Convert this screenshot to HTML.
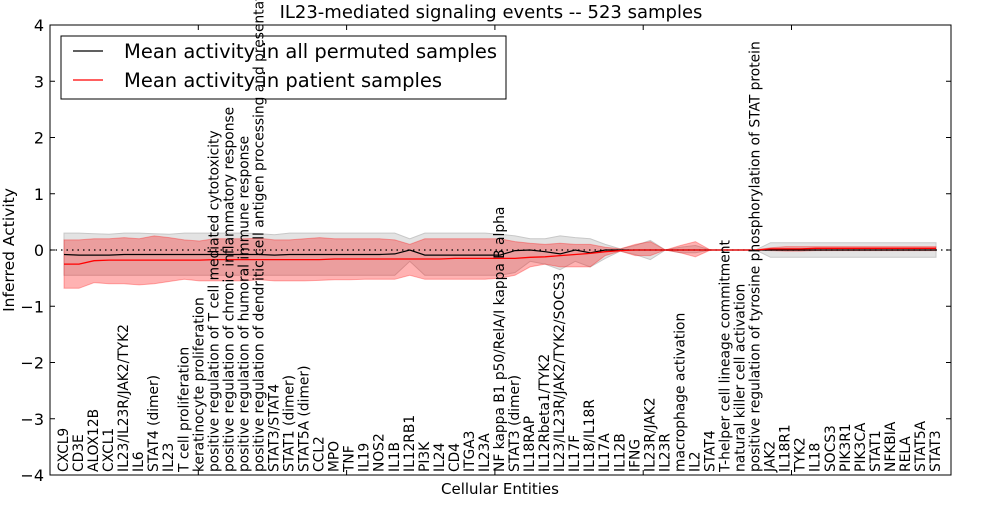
<!DOCTYPE html>
<html><head><meta charset="utf-8"><style>
body{margin:0;background:#fff}
svg{font-family:"DejaVu Sans","Liberation Sans",sans-serif}
</style></head><body>
<svg id="chart" width="1000" height="500" viewBox="0 0 1000 500">
<g id="bands"></g>
<g id="lines"></g>
<g id="axes"></g>
<g id="labels"></g>
</svg>
<script>
const categories=["CXCL9","CD3E","ALOX12B","CXCL1","IL23/IL23R/JAK2/TYK2","IL6","STAT4 (dimer)","IL23","T cell proliferation","keratinocyte proliferation","positive regulation of T cell mediated cytotoxicity","positive regulation of chronic inflammatory response","positive regulation of humoral immune response","positive regulation of dendritic cell antigen processing and presentation","STAT3/STAT4","STAT1 (dimer)","STAT5A (dimer)","CCL2","MPO","TNF","IL19","NOS2","IL1B","IL12RB1","PI3K","IL24","CD4","ITGA3","IL23A","NF kappa B1 p50/RelA/I kappa B alpha","STAT3 (dimer)","IL18RAP","IL12Rbeta1/TYK2","IL23/IL23R/JAK2/TYK2/SOCS3","IL17F","IL18/IL18R","IL17A","IL12B","IFNG","IL23R/JAK2","IL23R","macrophage activation","IL2","STAT4","T-helper cell lineage commitment","natural killer cell activation","positive regulation of tyrosine phosphorylation of STAT protein","JAK2","IL18R1","TYK2","IL18","SOCS3","PIK3R1","PIK3CA","STAT1","NFKBIA","RELA","STAT5A","STAT3"];
const permMean=[-0.08,-0.09,-0.09,-0.09,-0.08,-0.08,-0.08,-0.08,-0.08,-0.08,-0.08,-0.08,-0.08,-0.08,-0.09,-0.08,-0.08,-0.08,-0.08,-0.08,-0.08,-0.08,-0.07,0.0,-0.09,-0.09,-0.09,-0.09,-0.09,-0.09,-0.01,0.0,-0.03,-0.07,0.0,-0.05,0.0,0.0,0.0,0.0,0.0,0.0,0.0,0.0,0.0,0.0,0.0,0.0,0.0,0.0,0.0,0.0,0.0,0.0,0.0,0.0,0.0,0.0,0.0];
const permUp=[0.3,0.3,0.29,0.28,0.3,0.3,0.29,0.28,0.3,0.3,0.3,0.3,0.3,0.29,0.27,0.3,0.3,0.3,0.3,0.3,0.3,0.3,0.3,0.2,0.3,0.3,0.3,0.3,0.3,0.28,0.25,0.2,0.2,0.25,0.22,0.2,0.1,0.02,0.08,0.17,0.0,0.05,0.08,0.0,0.0,0.0,0.0,0.13,0.13,0.13,0.13,0.13,0.13,0.13,0.13,0.13,0.13,0.13,0.13];
const permLo=[-0.45,-0.45,-0.45,-0.45,-0.45,-0.45,-0.45,-0.45,-0.45,-0.45,-0.45,-0.45,-0.45,-0.45,-0.45,-0.45,-0.45,-0.45,-0.45,-0.45,-0.45,-0.45,-0.45,-0.2,-0.45,-0.45,-0.45,-0.45,-0.45,-0.45,-0.4,-0.2,-0.25,-0.35,-0.2,-0.3,-0.15,-0.02,-0.08,-0.17,0.0,-0.05,-0.05,0.0,0.0,0.0,0.0,-0.13,-0.13,-0.13,-0.13,-0.13,-0.13,-0.13,-0.13,-0.13,-0.13,-0.13,-0.13];
const patMean=[-0.25,-0.25,-0.19,-0.18,-0.18,-0.18,-0.18,-0.18,-0.18,-0.18,-0.17,-0.17,-0.17,-0.17,-0.17,-0.17,-0.17,-0.17,-0.16,-0.16,-0.16,-0.16,-0.16,-0.16,-0.16,-0.16,-0.15,-0.15,-0.15,-0.15,-0.15,-0.13,-0.12,-0.1,-0.08,-0.06,-0.03,-0.01,0.0,0.0,0.0,0.0,0.0,0.0,0.0,0.0,0.0,0.02,0.02,0.02,0.03,0.03,0.03,0.03,0.03,0.03,0.03,0.03,0.03];
const patUp=[0.18,0.18,0.2,0.2,0.22,0.2,0.25,0.22,0.18,0.16,0.2,0.2,0.2,0.21,0.18,0.18,0.2,0.22,0.2,0.2,0.2,0.2,0.18,0.1,0.2,0.2,0.2,0.2,0.2,0.2,0.15,0.12,0.1,0.12,0.1,0.1,0.05,0.02,0.1,0.15,0.0,0.08,0.15,0.0,0.0,0.0,0.0,0.04,0.06,0.06,0.06,0.06,0.06,0.06,0.06,0.06,0.06,0.06,0.06];
const patLo=[-0.68,-0.68,-0.58,-0.6,-0.6,-0.62,-0.6,-0.56,-0.52,-0.55,-0.55,-0.55,-0.55,-0.53,-0.55,-0.55,-0.55,-0.54,-0.53,-0.53,-0.52,-0.52,-0.52,-0.45,-0.52,-0.52,-0.52,-0.52,-0.52,-0.5,-0.45,-0.3,-0.25,-0.3,-0.3,-0.3,-0.1,-0.02,-0.1,-0.1,0.0,-0.05,-0.12,0.0,0.0,0.0,0.0,-0.01,-0.02,-0.02,-0.01,-0.01,-0.01,-0.01,-0.01,-0.01,-0.01,-0.01,-0.01];
const yTicks=["−4","−3","−2","−1","0","1","2","3","4"];

const NS="http://www.w3.org/2000/svg";
const L=50,R=951,T=25,B=475;
const xs=i=>64+i*(872/58);
const ys=v=>250-v*56.25;
function mk(tag,parent,attrs){const e=document.createElementNS(NS,tag);for(const k in attrs)e.setAttribute(k,attrs[k]);parent.appendChild(e);return e;}
const bands=document.getElementById('bands'),lines=document.getElementById('lines'),axes=document.getElementById('axes'),labels=document.getElementById('labels');
function bandPath(up,lo){let d="";up.forEach((v,i)=>{d+=(i?"L":"M")+xs(i).toFixed(1)+","+ys(v).toFixed(1);});for(let i=lo.length-1;i>=0;i--)d+="L"+xs(i).toFixed(1)+","+ys(lo[i]).toFixed(1);return d+"Z";}
function linePath(a){return a.map((v,i)=>(i?"L":"M")+xs(i).toFixed(1)+","+ys(v).toFixed(1)).join("");}
let e=mk('path',bands,{d:bandPath(permUp,permLo),fill:"#dcdcdc",stroke:"#c8c8c8","stroke-width":1,"fill-opacity":0.8});


e=mk('path',bands,{d:bandPath(patUp,patLo),fill:"#ff0000","fill-opacity":0.3,stroke:"#ff0000","stroke-opacity":0.3,"stroke-width":1});


e=mk('line',lines,{x1:L,x2:R,y1:ys(0),y2:ys(0),stroke:"#000","stroke-width":1.3,"stroke-dasharray":"1.5,4"});


e=mk('path',lines,{d:linePath(permMean),fill:"none",stroke:"#000","stroke-width":1.2});


e=mk('path',lines,{d:linePath(patMean),fill:"none",stroke:"#ff0000","stroke-width":1.3});


e=mk('rect',axes,{x:L,y:T,width:R-L,height:B-T,fill:"none",stroke:"#000","stroke-width":1});


yTicks.forEach((t,i)=>{const v=i-4,y=ys(v);
 mk('line',axes,{x1:L,x2:L+5,y1:y,y2:y,stroke:"#000"});
 mk('line',axes,{x1:R,x2:R-5,y1:y,y2:y,stroke:"#000"});
 const tx=mk('text',axes,{x:L-6,y:y+6,"text-anchor":"end","font-size":16});tx.textContent=t;
 
 
});
for(let k=1;k<=5;k++){const x=L+k*148.3;
 mk('line',axes,{x1:x,x2:x,y1:T,y2:T+5,stroke:"#000"});
 mk('line',axes,{x1:x,x2:x,y1:B,y2:B-5,stroke:"#000"});}
categories.forEach((c,i)=>{const x=xs(i)+4;
 const t=mk('text',labels,{x:0,y:0,transform:`translate(${x.toFixed(1)},472) rotate(-90)`,"font-size":13.8});
 t.textContent=c;
 
 
});
e=mk('text',axes,{x:491,y:18,"text-anchor":"middle","font-size":18});e.textContent="IL23-mediated signaling events -- 523 samples";


e=mk('text',axes,{x:500,y:494,"text-anchor":"middle","font-size":15});e.textContent="Cellular Entities";


e=mk('text',axes,{x:0,y:0,transform:"translate(14,250) rotate(-90)","text-anchor":"middle","font-size":15.5});e.textContent="Inferred Activity";


const lg=mk('g',axes,{});


mk('rect',lg,{x:61,y:36,width:445,height:63,fill:"#fff",stroke:"#000","stroke-width":1});
mk('line',lg,{x1:73,x2:103,y1:51,y2:51,stroke:"#000","stroke-width":1.2});
mk('line',lg,{x1:73,x2:103,y1:80,y2:80,stroke:"#ff0000","stroke-width":1.3});
e=mk('text',lg,{x:124,y:58,"font-size":19.5});e.textContent="Mean activity in all permuted samples";


e=mk('text',lg,{x:124,y:87,"font-size":19.5});e.textContent="Mean activity in patient samples";


</script>
</body></html>
